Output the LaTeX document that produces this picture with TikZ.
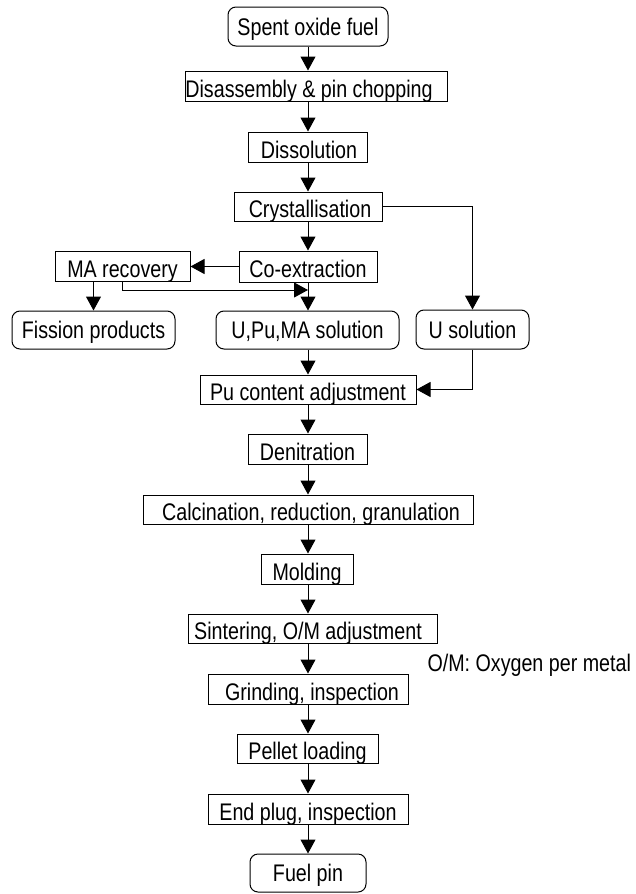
\documentclass[tikz,border=0pt]{standalone}
\usepackage{fontspec}
\setmainfont{Liberation Sans}[FakeStretch=0.82]
\usetikzlibrary{arrows.meta}
\newcommand{\shiftedtext}[2]{\hspace*{#1}#2\hspace*{-#1}}
\begin{document}
\begin{tikzpicture}[x=1pt,y=-1pt,line width=1pt,
  lbl/.style={font=\fontsize{24}{28}\selectfont},
  box/.style={lbl,draw,rectangle,inner sep=0pt,text height=22pt,text depth=0pt,minimum height=30pt},
  rbox/.style={lbl,draw,rectangle,rounded corners=8pt,inner sep=0pt,text height=17pt,text depth=0pt,minimum height=38pt},
  arr/.style={-{Triangle[length=14pt,width=15pt]}}]
\useasboundingbox (0,0) rectangle (635,894);
\coordinate (ax) at (308,0);
% nodes
\node[rbox,minimum width=160pt,minimum height=39pt] (start) at (308,26.5) {Spent oxide fuel};
\node[box,minimum width=262pt] (dis) at (316,86) {\shiftedtext{-7pt}{Disassembly \& pin chopping}};
\node[box,minimum width=119pt] (diss) at (307.5,147) {\shiftedtext{1.5pt}{Dissolution}};
\node[box,minimum width=148pt,minimum height=29pt] (cry) at (308,206.5) {\shiftedtext{2pt}{Crystallisation}};
\node[box,minimum width=138pt,minimum height=31pt] (coex) at (308,266.5) {Co-extraction};
\node[box,minimum width=135pt] (ma) at (122.5,266.5) {MA recovery};
\node[rbox,minimum width=163pt] (fp) at (93.5,330) {Fission products};
\node[rbox,minimum width=183pt] (upm) at (307.5,330) {U,Pu,MA solution};
\node[rbox,minimum width=113pt,minimum height=39pt] (us) at (472.5,329.5) {U solution};
\node[box,minimum width=216pt,minimum height=29pt] (pu) at (308,389.5) {Pu content adjustment};
\node[box,minimum width=119pt] (den) at (307.5,449) {Denitration};
\node[box,minimum width=330pt,minimum height=29pt] (cal) at (308,509.5) {\shiftedtext{3pt}{Calcination, reduction, granulation}};
\node[box,minimum width=92pt] (mol) at (307,569) {Molding};
\node[box,minimum width=249pt,minimum height=29pt] (sin) at (312.5,628.5) {\shiftedtext{-4.5pt}{Sintering, O/M adjustment}};
\node[box,minimum width=200pt] (gri) at (308,689) {\shiftedtext{4pt}{Grinding, inspection}};
\node[box,minimum width=141pt,minimum height=29pt] (pel) at (307.5,748.5) {Pellet loading};
\node[box,minimum width=200pt] (endp) at (308,809) {End plug, inspection};
\node[rbox,minimum width=116pt] (fuel) at (308,873) {Fuel pin};
\node[lbl,anchor=west,inner sep=0pt,text height=17pt,text depth=0pt] (note) at (427,663) {O/M: Oxygen per metal};
% main axis connectors
\foreach \a/\b in {start/dis,dis/diss,diss/cry,cry/coex,coex/upm,upm/pu,pu/den,den/cal,cal/mol,mol/sin,sin/gri,gri/pel,pel/endp,endp/fuel}
  \draw[arr] (\a.south -| ax) -- (\b.north -| ax);
% side branches
\draw[arr] (coex.west) -- (ma.east);
\draw[arr] (ma.south -| fp.north) -- (fp.north);
\coordinate (mj) at (308,290);
\draw[arr] (ma.south) |- (mj);
\draw[arr] (cry.east) -| (us.north);
\draw[arr] (us.south) |- (pu.east);
\end{tikzpicture}
\end{document}
